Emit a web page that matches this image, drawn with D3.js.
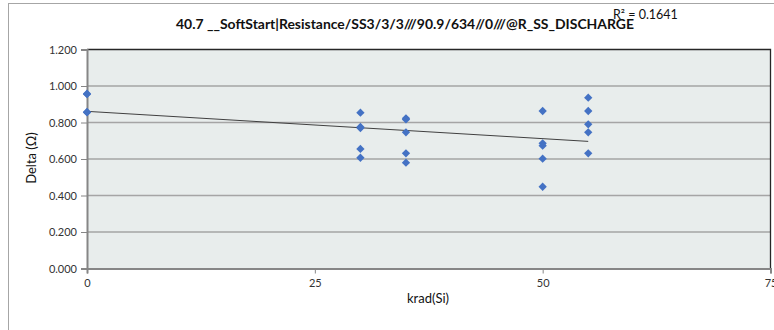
<!DOCTYPE html>
<html>
<head>
<meta charset="utf-8">
<script src="https://cdn.jsdelivr.net/npm/d3@7"></script>
<style>
  html, body { margin: 0; padding: 0; background: #fff; }
  svg { display: block; font-family: Lato, "Open Sans", sans-serif; }
</style>
</head>
<body>
<svg id="chart" width="774" height="330"></svg>
<script>
// ---- data ----
const title = "40.7  __SoftStart|Resistance/SS3/3/3///90.9/634//0///@R_SS_DISCHARGE";
const xLabel = "krad(Si)";
const yLabel = "Delta (\u03A9)";
const rSquaredText = "R\u00B2 = 0.1641";
const doseX = [0, 0, 0, 0,
               30, 30, 30, 30, 30,
               35, 35, 35, 35, 35,
               50, 50, 50, 50, 50,
               55, 55, 55, 55, 55];
const deltaY = [0.958, 0.955, 0.858, 0.855,
                0.854, 0.776, 0.770, 0.655, 0.607,
                0.823, 0.817, 0.746, 0.631, 0.580,
                0.863, 0.686, 0.673, 0.602, 0.448,
                0.936, 0.863, 0.790, 0.746, 0.631];
const xTicks = [0, 25, 50, 75];
const yTicks = [0, 0.2, 0.4, 0.6, 0.8, 1.0, 1.2];

// ---- layout ----
const svg = d3.select("#chart");
const plot = { left: 87, right: 770.5, top: 49.5, bottom: 268.5 };
const x = d3.scaleLinear().domain([0, 75]).range([plot.left, plot.right]);
const y = d3.scaleLinear().domain([0, 1.2]).range([plot.bottom, plot.top]);

// outer chart border
svg.append("rect").attr("x", 8.5).attr("y", 3.5).attr("width", 900).attr("height", 500)
  .attr("fill", "#fff").attr("stroke", "#a6a6a6").attr("stroke-width", 1);

// plot background
svg.append("rect").attr("x", plot.left).attr("y", plot.top)
  .attr("width", plot.right - plot.left).attr("height", plot.bottom - plot.top)
  .attr("fill", "#e8edec");

// gridlines
svg.append("g").selectAll("line").data(yTicks.filter(d => d > 0 && d < 1.2)).join("line")
  .attr("x1", plot.left).attr("x2", plot.right)
  .attr("y1", d => y(d)).attr("y2", d => y(d))
  .attr("stroke", "#a5a5a5").attr("stroke-width", 1.3);

// plot border top/right
svg.append("path")
  .attr("d", `M${plot.left},${plot.top}H${plot.right}V${plot.bottom}`)
  .attr("fill", "none").attr("stroke", "#262626").attr("stroke-width", 1.3);

// axes
const yAxis = d3.axisLeft(y).tickValues(yTicks).tickFormat(d3.format(".3f")).tickSize(6).tickPadding(4);
const gy = svg.append("g").attr("transform", `translate(${plot.left},0)`).call(yAxis);
gy.select(".domain").attr("stroke", "#868686").attr("stroke-width", 2);
gy.selectAll(".tick line").attr("stroke", "#868686");
gy.selectAll(".tick text").attr("font-size", 11).attr("fill", "#333").attr("font-family", "Lato, sans-serif");

const xAxis = d3.axisBottom(x).tickValues(xTicks).tickFormat(d3.format("d")).tickSize(5).tickPadding(6);
const gx = svg.append("g").attr("transform", `translate(0,${plot.bottom})`).call(xAxis);
gx.select(".domain").attr("stroke", "#868686").attr("stroke-width", 2);
gx.selectAll(".tick line").attr("stroke", "#868686");
gx.selectAll(".tick text").attr("font-size", 11).attr("fill", "#333").attr("font-family", "Lato, sans-serif");

// linear trendline (least squares over data extent)
const n = doseX.length;
const mx = d3.mean(doseX), my = d3.mean(deltaY);
let sxy = 0, sxx = 0;
for (let i = 0; i < n; i++) { sxy += (doseX[i] - mx) * (deltaY[i] - my); sxx += (doseX[i] - mx) ** 2; }
const slope = sxy / sxx, intercept = my - slope * mx;
const [x0, x1] = d3.extent(doseX);
svg.append("line")
  .attr("x1", x(x0)).attr("y1", y(intercept + slope * x0))
  .attr("x2", x(x1)).attr("y2", y(intercept + slope * x1))
  .attr("stroke", "#404040").attr("stroke-width", 1);

// markers (diamonds)
const diamond = d3.symbol().type(d3.symbolDiamond2).size(44);
svg.append("g").selectAll("path").data(doseX.map((d, i) => [d, deltaY[i]])).join("path")
  .attr("transform", d => `translate(${x(d[0])},${y(d[1])})`)
  .attr("d", diamond)
  .attr("fill", "#4472c4");

// title
svg.append("text").attr("x", 405).attr("y", 29).attr("text-anchor", "middle")
  .attr("font-size", 13).attr("font-weight", "bold").attr("fill", "#111")
  .attr("textLength", 458).attr("lengthAdjust", "spacingAndGlyphs")
  .text(title);

// R squared label
svg.append("text").attr("x", 613).attr("y", 19)
  .attr("font-size", 12.5).attr("fill", "#111")
  .text(rSquaredText);

// axis titles
svg.append("text").attr("x", 428).attr("y", 303).attr("text-anchor", "middle")
  .attr("font-size", 13).attr("fill", "#111").text(xLabel);
svg.append("text").attr("transform", `translate(36,158) rotate(-90)`).attr("text-anchor", "middle")
  .attr("font-size", 13).attr("fill", "#111").text(yLabel);
</script>
</body>
</html>
